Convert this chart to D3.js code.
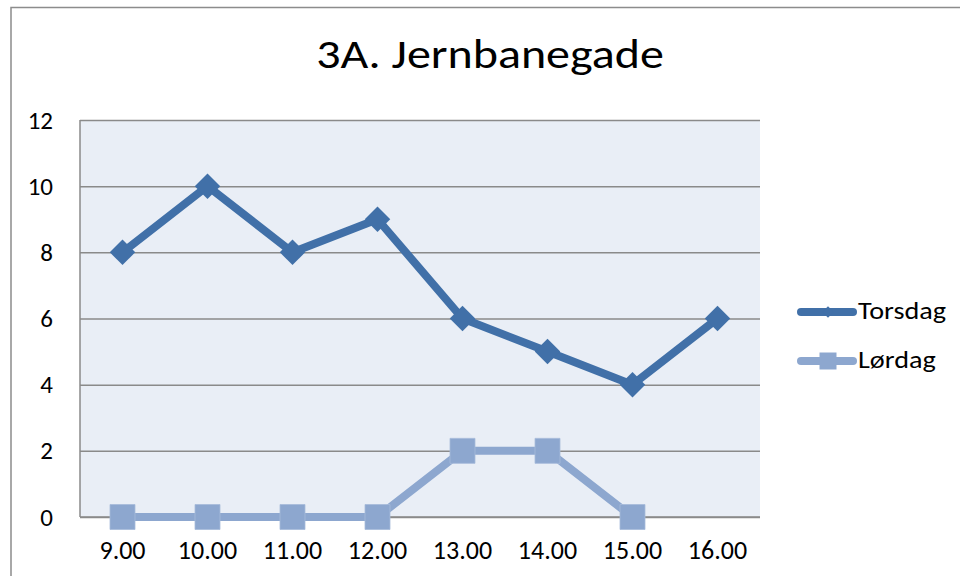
<!DOCTYPE html>
<html><head><meta charset="utf-8">
<script src="https://cdn.jsdelivr.net/npm/d3@7"></script>
<style>body{margin:0;background:#fff}svg{display:block}</style>
</head><body>
<script>
const categories = ["9.00","10.00","11.00","12.00","13.00","14.00","15.00","16.00"];
const torsdag = [8,10,8,9,6,5,4,6];
const lordag = [0,0,0,0,2,2,0,null];
const seriesNames = ["Torsdag","Lørdag"];
const yTicks = [0,2,4,6,8,10,12];
const title = "3A. Jernbanegade";

const W=960,H=576;
const svg=d3.select("body").append("svg").attr("width",W).attr("height",H);
svg.append("rect").attr("x",11).attr("y",7.5).attr("width",W).attr("height",H).attr("fill","#fff").attr("stroke","#8c8c8c").attr("stroke-width",1.5);

const m={l:80,r:760,t:120,b:517};
const x=d3.scaleBand().domain(categories).range([m.l,m.r]);
const y=d3.scaleLinear().domain([0,12]).range([m.b,m.t]);
const font="Carlito, Calibri, 'Liberation Sans', Arial, sans-serif";

svg.append("rect").attr("x",m.l).attr("y",m.t).attr("width",m.r-m.l).attr("height",m.b-m.t).attr("fill","#E9EEF6");

const ga=svg.append("g").attr("transform",`translate(${m.l},0)`)
 .call(d3.axisLeft(y).tickValues(yTicks).tickSize(-(m.r-m.l)).tickPadding(27));
ga.select(".domain").remove();
ga.selectAll(".tick line").attr("stroke","#8a8a8a").attr("stroke-width",1.5);
ga.selectAll(".tick text").attr("font-family",font).attr("font-size",25).attr("fill","#000");
svg.append("line").attr("x1",m.l).attr("x2",m.l).attr("y1",m.t).attr("y2",m.b).attr("stroke","#8a8a8a").attr("stroke-width",1.5);
svg.append("line").attr("x1",m.l).attr("x2",m.r).attr("y1",m.b).attr("y2",m.b).attr("stroke","#8a8a8a").attr("stroke-width",1.5);

const gx=svg.append("g").attr("transform",`translate(0,${m.b})`)
 .call(d3.axisBottom(x).tickSize(0).tickPadding(24));
gx.select(".domain").remove();
gx.selectAll(".tick text").attr("font-family",font).attr("font-size",26).attr("fill","#000");

const cx=d=>x(d)+x.bandwidth()/2;
const colors=["#4170A8","#8DA7CF"];
const data=[torsdag,lordag];
const line=d3.line().defined(d=>d.v!=null).x(d=>cx(d.c)).y(d=>y(d.v));

data.forEach((s,i)=>{
  const pts=categories.map((c,j)=>({c,v:s[j]}));
  svg.append("path").datum(pts).attr("d",line).attr("fill","none").attr("stroke",colors[i]).attr("stroke-width",8).attr("stroke-linejoin","round");
  const valid=pts.filter(d=>d.v!=null);
  if(i===0){
    svg.selectAll(null).data(valid).enter().append("path")
      .attr("d",d3.symbol(d3.symbolSquare, 18*18))
      .attr("transform",d=>`translate(${cx(d.c)},${y(d.v)}) rotate(45)`).attr("fill",colors[i]);
  } else {
    svg.selectAll(null).data(valid).enter().append("path")
      .attr("d",d3.symbol(d3.symbolSquare,25*25))
      .attr("transform",d=>`translate(${cx(d.c)},${y(d.v)})`).attr("fill",colors[i]).attr("stroke","#a7bbdb").attr("stroke-width",0.8);
  }
});

const sx=1.2;
svg.append("text").attr("transform",`translate(490,68) scale(${sx},1)`).attr("text-anchor","middle").attr("font-family",font).attr("font-size",40).text(title);

// legend
const lg=[312,361];
seriesNames.forEach((n,i)=>{
  svg.append("line").attr("x1",801).attr("x2",853).attr("y1",lg[i]).attr("y2",lg[i]).attr("stroke",colors[i]).attr("stroke-width",8).attr("stroke-linecap","round");
  if(i===0){
    svg.append("path").attr("d",d3.symbol(d3.symbolSquare,8*8)).attr("transform",`translate(828,${lg[i]}) rotate(45)`).attr("fill",colors[i]);
  } else {
    svg.append("path").attr("d",d3.symbol(d3.symbolSquare,17*17)).attr("transform",`translate(828,${lg[i]})`).attr("fill",colors[i]);
  }
  svg.append("text").attr("transform",`translate(858,${lg[i]+7}) scale(${sx},1)`).attr("font-family",font).attr("font-size",23.5).text(n);
});
</script>
</body></html>
